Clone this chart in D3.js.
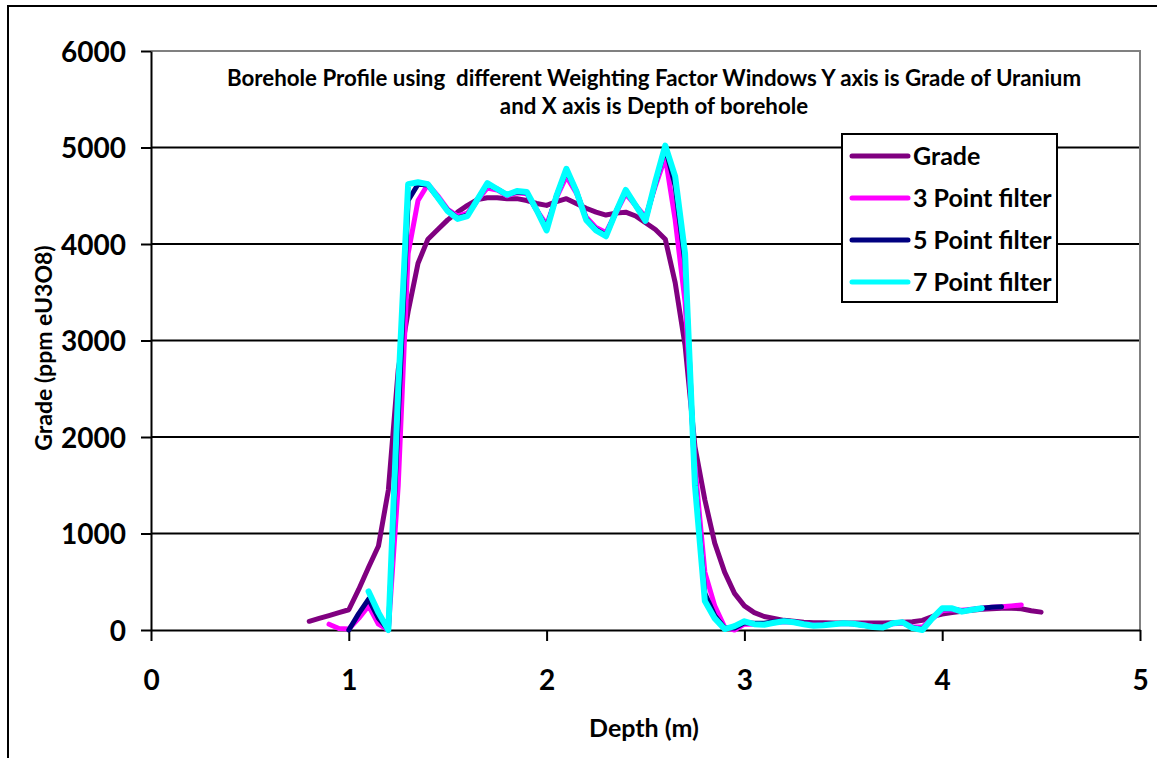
<!DOCTYPE html>
<html>
<head>
<meta charset="utf-8">
<script src="https://cdn.jsdelivr.net/npm/d3@7"></script>
<style>
	body{margin:0;background:#fff;}
	text{font-family:Lato, 'Open Sans', sans-serif;font-weight:bold;fill:#000;}
</style>
</head>
<body>
<div id="chart"></div>
<script>
// depth (m), shared by all series
const depth = [0.8,0.85,0.9,0.95,1.0,1.05,1.1,1.15,1.2,1.25,1.3,1.35,1.4,1.45,1.5,1.55,1.6,1.65,1.7,1.75,
	1.8,1.85,1.9,1.95,2.0,2.05,2.1,2.15,2.2,2.25,2.3,2.35,2.4,2.45,2.5,2.55,2.6,2.65,2.7,2.75,
	2.8,2.85,2.9,2.95,3.0,3.05,3.1,3.15,3.2,3.25,3.3,3.35,3.4,3.45,3.5,3.55,3.6,3.65,3.7,3.75,
	3.8,3.85,3.9,3.95,4.0,4.05,4.1,4.15,4.2,4.25,4.3,4.35,4.4,4.45,4.5];

const grade = [90,120,150,180,210,420,650,870,1450,2700,3300,3800,4050,4150,4250,4330,4400,4460,4480,4480,
	4470,4470,4450,4420,4400,4440,4470,4420,4370,4330,4300,4320,4330,4290,4220,4150,4050,3600,2950,1900,
	1350,900,600,380,250,180,140,120,100,90,80,75,75,72,72,72,72,72,72,75,
	80,85,100,140,165,180,195,205,215,220,225,225,220,200,185];

const filter3 = [null,null,60,15,10,120,250,60,0,1500,3900,4450,4620,4500,4360,4290,4320,4450,4580,4560,
	4500,4530,4520,4350,4200,4480,4700,4530,4280,4170,4120,4320,4520,4400,4280,4600,4900,4250,3400,1700,
	600,250,30,0,60,60,60,75,85,80,65,55,55,62,68,65,55,40,35,65,
	70,35,30,120,200,210,205,215,225,235,240,250,260,null,null];

const filter5 = [null,null,null,null,0,170,320,120,0,2200,4450,4620,4610,4480,4350,4270,4300,4460,4620,4570,
	4510,4540,4530,4350,4160,4500,4760,4550,4260,4150,4090,4330,4550,4400,4250,4630,5000,4600,3800,1550,
	380,150,20,20,75,70,70,85,95,85,65,50,55,65,70,65,50,35,30,70,
	80,25,5,120,220,220,195,210,225,235,240,null,null,null,null];

const filter7 = [null,null,null,null,null,null,400,180,0,2500,4620,4640,4620,4480,4340,4260,4290,4460,4630,4570,
	4510,4550,4540,4350,4140,4500,4780,4550,4250,4140,4080,4330,4560,4400,4240,4650,5020,4700,3900,1500,
	300,120,10,40,90,60,55,75,90,80,60,45,50,60,70,65,50,30,25,70,
	80,20,0,120,225,225,190,210,225,null,null,null,null,null,null];

const seriesNames = ['Grade','3 Point filter','5 Point filter','7 Point filter'];
const seriesColors = ['#800080','#ff00ff','#000080','#00ffff'];
const seriesWidths = [5,5,5,6];
const xTicks = [0,1,2,3,4,5];
const yTicks = [0,1000,2000,3000,4000,5000,6000];
const titleLines = ['Borehole Profile using  different Weighting Factor Windows Y axis is Grade of Uranium',
	'and X axis is Depth of borehole'];

const W = 1157, H = 758;
const _m = {t:51, r:17, l:151, b:128};

const svg = d3.select('#chart').append('svg')
	.attr('width',W)
	.attr('height',H);

// outer chart frame (runs off the right and bottom of the picture)
svg.append('rect')
	.attr('x',8).attr('y',6)
	.attr('width',W).attr('height',H)
	.style('fill','none')
	.style('stroke','#000')
	.style('stroke-width','2px');

const x = d3.scaleLinear().domain([0,5]).range([_m.l, W-_m.r]),
	y = d3.scaleLinear().domain([0,6000]).range([H-_m.b, _m.t]);

// gridlines
svg.append('g').attr('class','grid')
	.selectAll('line')
	.data(yTicks.filter(v=>v>0 && v<6000))
	.enter().append('line')
	.attr('x1',x(0)).attr('x2',x(5))
	.attr('y1',d=>y(d)).attr('y2',d=>y(d))
	.style('stroke','#000')
	.style('stroke-width','2px');

// plot area border
svg.append('path')
	.attr('d',`M${x(0)},${y(6000)}H${x(5)}V${y(0)}`)
	.style('fill','none')
	.style('stroke','#808080')
	.style('stroke-width','2px');

// axes
const yAxis = svg.append('g')
	.attr('transform',`translate(${x(0)},0)`)
	.call(d3.axisLeft(y).tickValues(yTicks).tickSize(10).tickSizeOuter(0).tickFormat(d3.format('d')));
yAxis.selectAll('text')
	.attr('x',-25)
	.attr('dy','0.36em')
	.style('font-size','28px');

const xAxis = svg.append('g')
	.attr('transform',`translate(0,${y(0)})`)
	.call(d3.axisBottom(x).tickValues(xTicks).tickSize(11).tickSizeOuter(0).tickFormat(d3.format('d')));
xAxis.selectAll('text')
	.attr('y',60)
	.attr('dy',0)
	.style('font-size','28px');

[yAxis,xAxis].forEach(a=>{
	a.selectAll('line,path').style('stroke','#000').style('stroke-width','2px');
	a.selectAll('text').style('font-family','Lato, sans-serif').style('font-weight','bold').style('fill','#000');
});

// series
const seriesData = [grade,filter3,filter5,filter7];
const line = d3.line()
	.defined(d=>d.v!=null)
	.x(d=>x(d.depth))
	.y(d=>y(d.v));

svg.append('g').attr('class','series')
	.selectAll('path')
	.data(seriesData.map((vals,i)=>({i:i, pts:vals.map((v,j)=>({depth:depth[j], v:v}))})))
	.enter().append('path')
	.attr('d',d=>line(d.pts))
	.style('fill','none')
	.style('stroke',d=>seriesColors[d.i])
	.style('stroke-width',d=>seriesWidths[d.i]+'px')
	.style('stroke-linejoin','round')
	.style('stroke-linecap','round');

// title
svg.append('g').attr('class','title')
	.selectAll('text')
	.data(titleLines)
	.enter().append('text')
	.attr('x',654)
	.attr('y',(d,i)=>86+i*28)
	.attr('text-anchor','middle')
	.style('white-space','pre')
	.style('font-size','22.3px')
	.text(d=>d);

// axis titles
svg.append('text')
	.attr('x',644).attr('y',737)
	.attr('text-anchor','middle')
	.style('font-size','25px')
	.text('Depth (m)');
svg.append('text')
	.attr('transform','translate(52,348) rotate(-90)')
	.attr('text-anchor','middle')
	.style('font-size','23px')
	.text('Grade (ppm eU3O8)');

// legend
const legend = svg.append('g').attr('class','legend');
legend.append('rect')
	.attr('x',842).attr('y',134)
	.attr('width',215).attr('height',168)
	.style('fill','#fff')
	.style('stroke','#000')
	.style('stroke-width','2px');
const item = legend.selectAll('.item')
	.data(seriesNames)
	.enter().append('g').attr('class','item')
	.attr('transform',(d,i)=>`translate(0,${156+i*42})`);
item.append('line')
	.attr('x1',852).attr('x2',908)
	.style('stroke',(d,i)=>seriesColors[i])
	.style('stroke-width','5px')
	.style('stroke-linecap','round');
item.append('text')
	.attr('x',913)
	.attr('dy','0.36em')
	.style('font-size','25px')
	.text(d=>d);
</script>
</body>
</html>
